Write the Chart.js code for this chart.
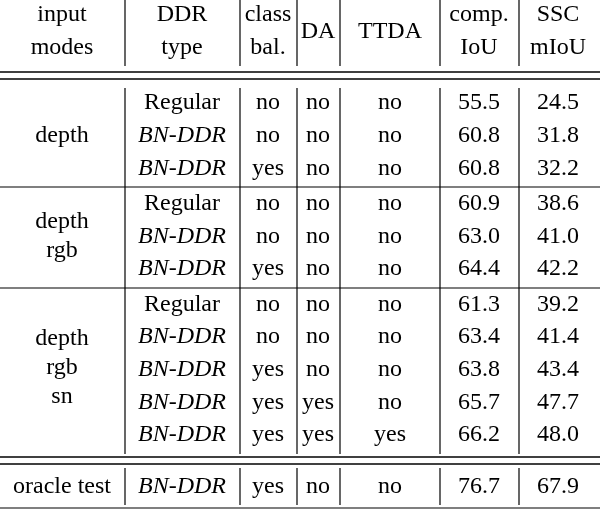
<!DOCTYPE html><html><head><meta charset="utf-8">
<script src="https://cdn.jsdelivr.net/npm/chart.js@4"></script>
<style>html,body{margin:0;background:#fff}#w{width:600px;height:512px}</style></head><body>
<div id="w"><canvas id="c"></canvas></div>
<script>
const headers1 = ["input","DDR","class","DA","TTDA","comp.","SSC"];
const headers2 = ["modes","type","bal.","","","IoU","mIoU"];
const ddrType = ["Regular","BN-DDR","BN-DDR","Regular","BN-DDR","BN-DDR","Regular","BN-DDR","BN-DDR","BN-DDR","BN-DDR","BN-DDR"];
const classBal = ["no","no","yes","no","no","yes","no","no","yes","yes","yes","yes"];
const da = ["no","no","no","no","no","no","no","no","no","yes","yes","no"];
const ttda = ["no","no","no","no","no","no","no","no","no","no","yes","no"];
const compIoU = ["55.5","60.8","60.8","60.9","63.0","64.4","61.3","63.4","63.8","65.7","66.2","76.7"];
const sscMIoU = ["24.5","31.8","32.2","38.6","41.0","42.2","39.2","41.4","43.4","47.7","48.0","67.9"];
const rowY = [103,136,169,204,237,269,305,337,370,403,435,487];
const groups = [{label:["depth"],y:136},{label:["depth","rgb"],y:236},{label:["depth","rgb","sn"],y:368},{label:["oracle test"],y:487}];
const colX = [62,182,268,318,390,479,558];
const vLines = [125,240,297,340,440,519];
const plugin = {id:'tbl',afterDraw(ch){
  const c=ch.ctx,X=v=>ch.scales.x.getPixelForValue(v),Y=v=>ch.scales.y.getPixelForValue(v);
  c.save();c.strokeStyle='#000';
  const h=(y,w)=>{c.lineWidth=w;c.beginPath();c.moveTo(X(0),Y(y));c.lineTo(X(600),Y(y));c.stroke();};
  h(72,1.6);h(79,1.6);h(187,1.2);h(288,1.2);h(457,1.6);h(464,1.6);h(508,1.2);
  const segs=[[0,66],[88,454],[468,505]];
  c.lineWidth=1.2;
  vLines.forEach(x=>segs.forEach(s=>{c.beginPath();c.moveTo(X(x),Y(s[0]));c.lineTo(X(x),Y(s[1]));c.stroke();}));
  c.fillStyle='#000';c.textAlign='center';c.textBaseline='middle';
  const f='24px "Liberation Serif"';
  c.font=f;
  headers1.forEach((t,i)=>{ if(i==3||i==4) c.fillText(t,X(colX[i]),Y(32)); else c.fillText(t,X(colX[i]),Y(15)); });
  headers2.forEach((t,i)=>{ if(t) c.fillText(t,X(colX[i]),Y(48)); });
  groups.forEach(g=>{const n=g.label.length;g.label.forEach((t,k)=>c.fillText(t,X(colX[0]),Y(g.y+(k-(n-1)/2)*29)));});
  rowY.forEach((y,r)=>{
    c.font=(ddrType[r]=='Regular'?'':'italic ')+'24px "Liberation Serif"';
    c.fillText(ddrType[r],X(colX[1]),Y(y));
    c.font=f;
    [classBal,da,ttda,compIoU,sscMIoU].forEach((a,i)=>c.fillText(a[r],X(colX[i+2]),Y(y)));
  });
  c.restore();
}};
new Chart(document.getElementById('c'),{type:'scatter',data:{datasets:[{data:[],pointRadius:0}]},
 options:{responsive:true,maintainAspectRatio:false,animation:false,layout:{padding:0},
  plugins:{legend:{display:false},tooltip:{enabled:false}},
  scales:{x:{type:'linear',min:0,max:600,display:false},y:{type:'linear',min:0,max:512,reverse:true,display:false}}},
 plugins:[plugin]});
</script></body></html>
